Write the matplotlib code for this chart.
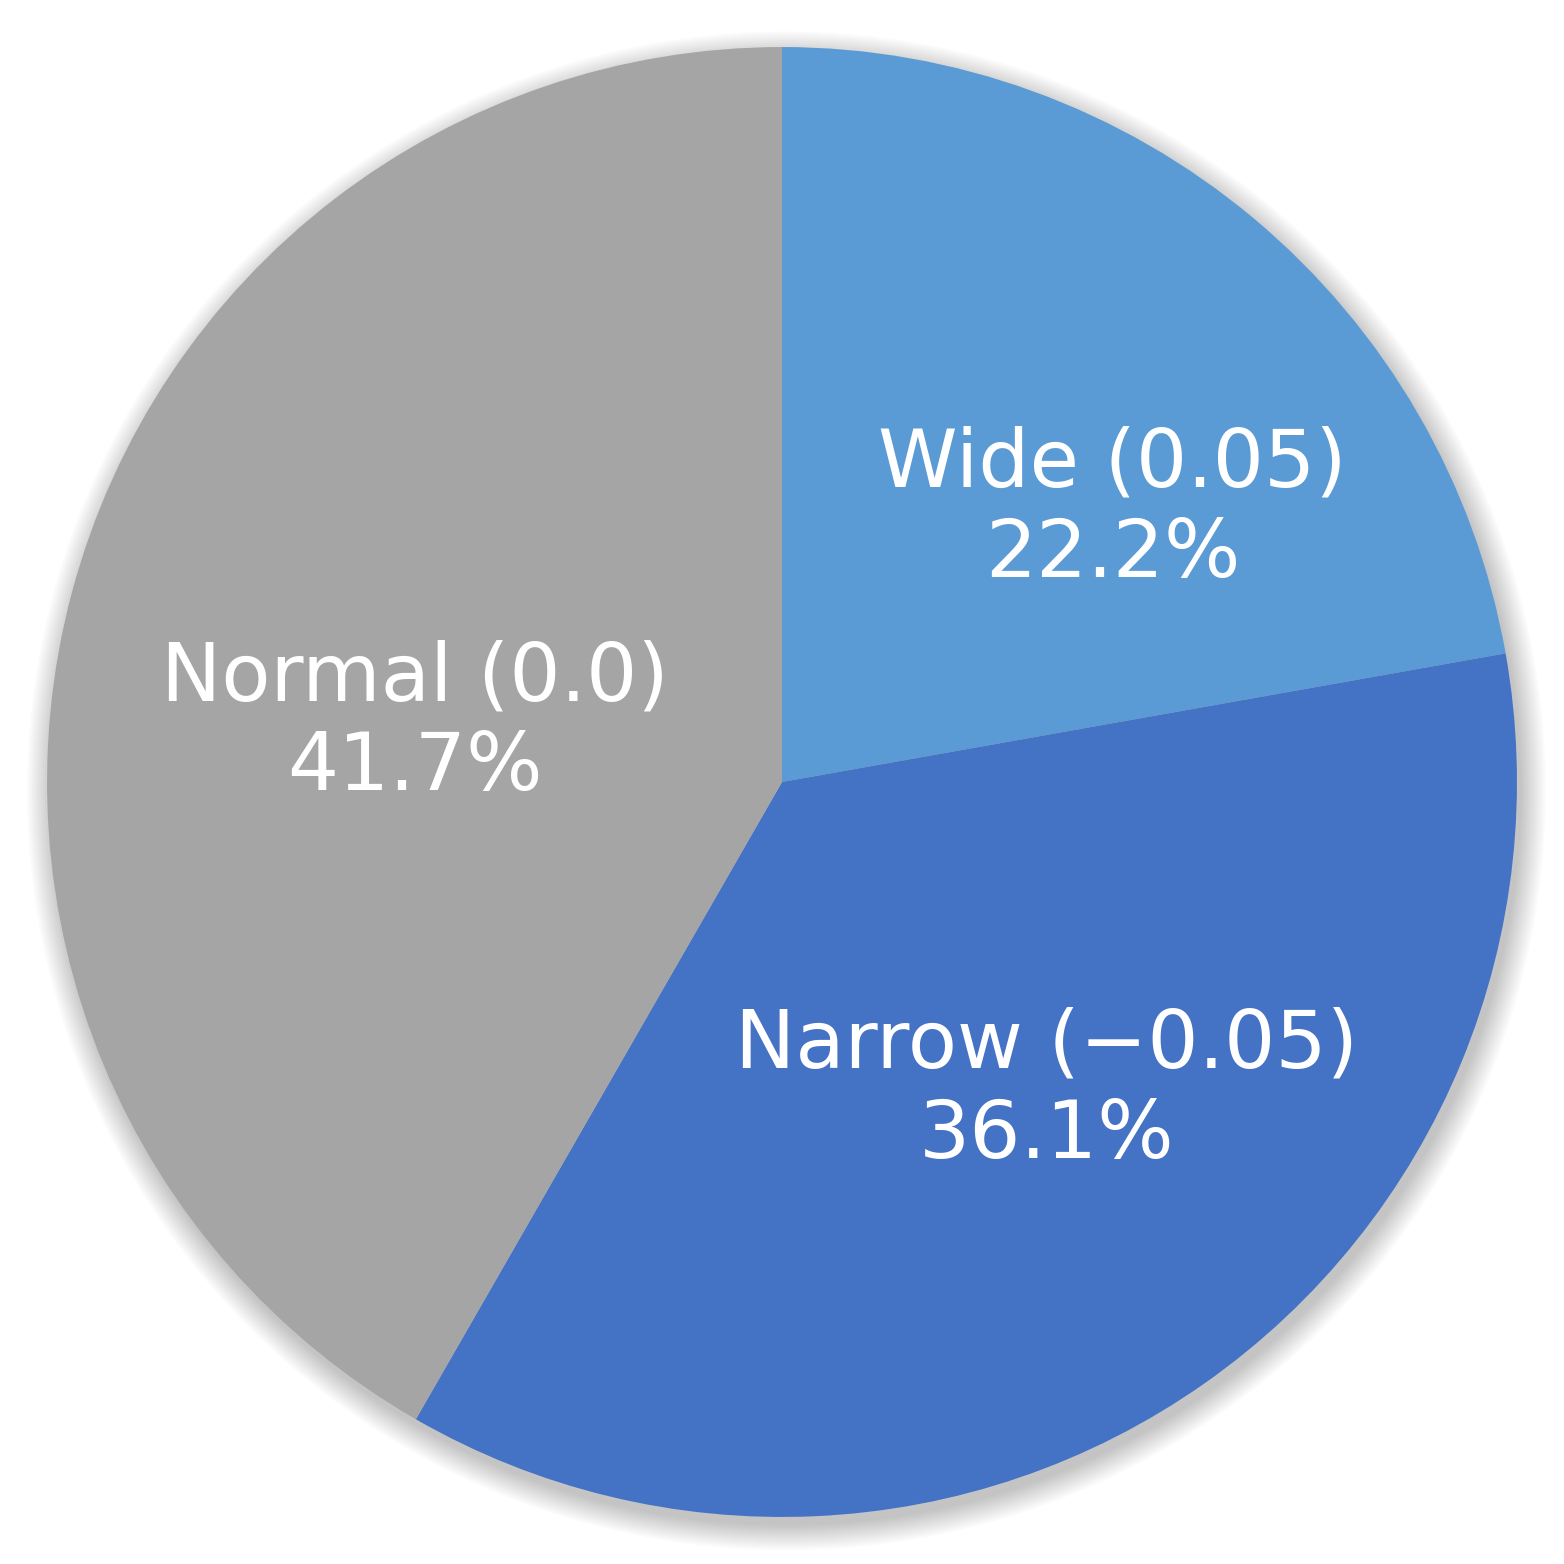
import matplotlib
matplotlib.use("Agg")
import matplotlib.pyplot as plt
from matplotlib.patches import Circle

labels = ["Wide (0.05)", "Narrow (\u22120.05)", "Normal (0.0)"]
shares = [22.2, 36.1, 41.7]
colors = ["#5B9BD5", "#4472C4", "#A5A5A5"]
# label centres (data units, radius = 1)
label_pos = [(0.45, 0.37), (0.36, -0.42), (-0.50, 0.08)]

fig = plt.figure(figsize=(15.64, 15.64), dpi=100)
ax = fig.add_axes([0, 0, 1, 1])
ax.set_xlim(-1.064, 1.064)
ax.set_ylim(-1.064, 1.064)
ax.set_aspect("equal")
ax.axis("off")

# soft shadow
for i in range(12):
    ax.add_patch(Circle((0.006, -0.012), 1.0 + 0.003 * i, color="black",
                        alpha=0.018, lw=0, zorder=0))

ax.pie(shares, colors=colors, startangle=90, counterclock=False, radius=1.0,
       wedgeprops=dict(linewidth=0), center=(0, 0), frame=False)
ax.set_xlim(-1.064, 1.064)
ax.set_ylim(-1.064, 1.064)

for lab, v, (x, y) in zip(labels, shares, label_pos):
    ax.text(x, y, f"{lab}\n{v:.1f}%", ha="center", va="center",
            color="white", fontsize=58, linespacing=1.2, family="DejaVu Sans")

fig.savefig("out.png", dpi=100)
